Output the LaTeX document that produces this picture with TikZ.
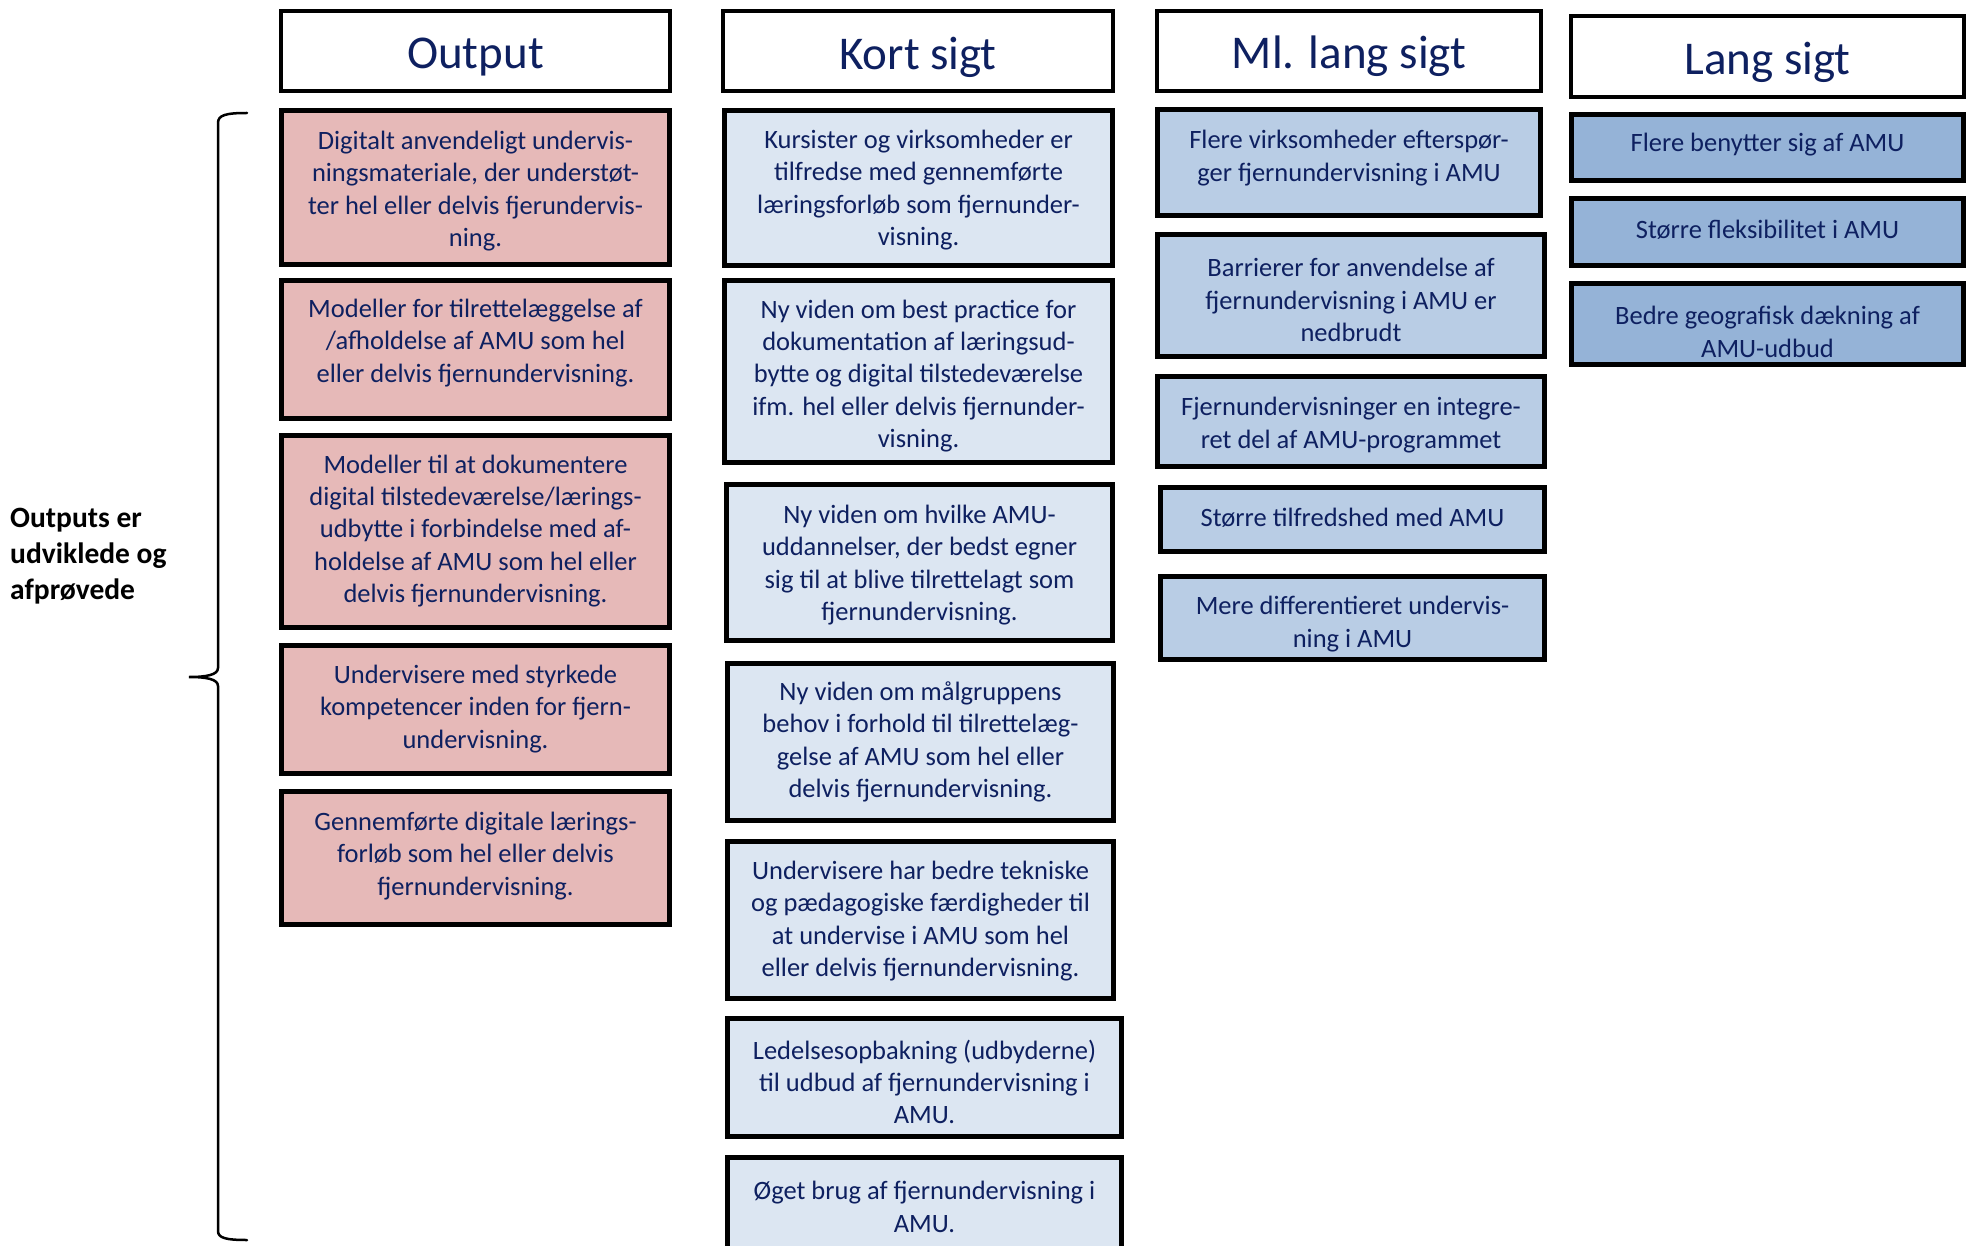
\documentclass[tikz,border=0pt]{standalone}
\usepackage{fontspec}
\setmainfont{Carlito}
\definecolor{navy}{RGB}{14,32,96}
\definecolor{pinkfill}{HTML}{E6B9B8}
\definecolor{kortfill}{HTML}{DCE6F2}
\definecolor{mlfill}{HTML}{B9CDE5}
\definecolor{langfill}{HTML}{95B3D7}
\newcommand\bx[8]{%
  \node[#2, minimum width={(#5-#3-5)*1pt}, minimum height={(#6-#4-5)*1pt}] (#1) at ({(#3+#5)/2},{(#4+#6)/2}) {};
  \node[txt] (#1t) at ({(#3+#5)/2},#7) {#8};
}
\begin{document}
\begin{tikzpicture}[x=1pt,y=-1pt,
  boxbase/.style={draw=black, line width=5pt, inner sep=0pt, outer sep=0pt},
  obox/.style={boxbase, fill=pinkfill},
  kbox/.style={boxbase, fill=kortfill},
  mbox/.style={boxbase, fill=mlfill},
  lbox/.style={boxbase, fill=langfill},
  hbox/.style={draw=black, line width=4pt, fill=white, inner sep=0pt, outer sep=0pt},
  txt/.style={align=center, inner sep=0pt, yshift=-3pt, text=navy, font=\fontsize{26.5}{32.3}\selectfont},
  htxt/.style={inner sep=0pt, yshift=-4pt, text=navy, font=\fontsize{47}{56}\selectfont},
  lbl/.style={align=left, inner sep=0pt, text=black, font=\fontsize{29.5}{36}\selectfont\bfseries},
  brace/.style={draw=black, line width=2.5pt, line cap=round}]
\useasboundingbox (0,0) rectangle (1970,1246);
% headers
\node[hbox, minimum width=389pt, minimum height=80pt] (hout) at (475.5,51) {};
\node[htxt] (houtt) at (475.5,53) {Output};
\node[hbox, minimum width=390pt, minimum height=80pt] (hkort) at (918,51) {};
\node[htxt] (hkortt) at (918,53) {Kort sigt};
\node[hbox, minimum width=384pt, minimum height=80pt] (hml) at (1349,51) {};
\node[htxt] (hmlt) at (1349,52) {Ml. lang sigt};
\node[hbox, minimum width=393pt, minimum height=81pt] (hlang) at (1767.5,56.5) {};
\node[htxt] (hlangt) at (1767.5,58) {Lang sigt};
% Output column
\bx{o1}{obox}{279}{108}{672}{267}{188}{Digitalt anvendeligt undervis-\\ningsmateriale, der understøt-\\ter hel eller delvis fjerundervis-\\ning.}
\bx{o2}{obox}{279}{278}{672}{421}{340}{Modeller for tilrettelæggelse af\\/afholdelse af AMU som hel\\eller delvis fjernundervisning.}
\bx{o3}{obox}{279}{433}{672}{630}{528}{Modeller til at dokumentere\\digital tilstedeværelse/lærings-\\udbytte i forbindelse med af-\\holdelse af AMU som hel eller\\delvis fjernundervisning.}
\bx{o4}{obox}{279}{643}{672}{776}{706}{Undervisere med styrkede\\kompetencer inden for fjern-\\undervisning.}
\bx{o5}{obox}{279}{789}{672}{927}{853}{Gennemførte digitale lærings-\\forløb som hel eller delvis\\fjernundervisning.}
% Kort sigt column
\bx{k1}{kbox}{722}{108}{1115}{268}{187}{Kursister og virksomheder er\\tilfredse med gennemførte\\læringsforløb som fjernunder-\\visning.}
\bx{k2}{kbox}{722}{278}{1115}{465}{373}{Ny viden om best practice for\\dokumentation af læringsud-\\bytte og digital tilstedeværelse\\ifm. hel eller delvis fjernunder-\\visning.}
\bx{k3}{kbox}{724}{482}{1115}{643}{562}{Ny viden om hvilke AMU-\\uddannelser, der bedst egner\\sig til at blive tilrettelagt som\\fjernundervisning.}
\bx{k4}{kbox}{725}{661}{1116}{823}{739}{Ny viden om målgruppens\\behov i forhold til tilrettelæg-\\gelse af AMU som hel eller\\delvis fjernundervisning.}
\bx{k5}{kbox}{725}{839}{1116}{1001}{918}{Undervisere har bedre tekniske\\og pædagogiske færdigheder til\\at undervise i AMU som hel\\eller delvis fjernundervisning.}
\bx{k6}{kbox}{725}{1016}{1124}{1139}{1079}{Ledelsesopbakning (udbyderne)\\til udbud af fjernundervisning i\\AMU.}
\bx{k7}{kbox}{725}{1155}{1124}{1262}{1204}{Øget brug af fjernundervisning i\\AMU.}
% Ml. lang sigt column
\bx{m1}{mbox}{1155}{107}{1543}{218}{155}{Flere virksomheder efterspør-\\ger fjernundervisning i AMU}
\bx{m2}{mbox}{1155}{232}{1547}{359}{297}{Barrierer for anvendelse af\\fjernundervisning i AMU er\\nedbrudt}
\bx{m3}{mbox}{1155}{374}{1547}{469}{422}{Fjernundervisninger en integre-\\ret del af AMU-programmet}
\bx{m4}{mbox}{1158}{485}{1547}{554}{515}{Større tilfredshed med AMU}
\bx{m5}{mbox}{1158}{574}{1547}{662}{621}{Mere differentieret undervis-\\ning i AMU}
% Lang sigt column
\bx{l1}{lbox}{1569}{112}{1966}{183}{142}{Flere benytter sig af AMU}
\bx{l2}{lbox}{1569}{196}{1966}{268}{227}{Større fleksibilitet i AMU}
\bx{l3}{lbox}{1569}{281}{1966}{367}{329}{Bedre geografisk dækning af\\AMU-udbud}
% brace and label
\coordinate (btop) at (247,113);
\coordinate (btip) at (189,677);
\coordinate (bbot) at (247,1240);
\draw[brace] (btop) .. controls (226,113) and (218,115) .. (218,123)
  -- (218,668) .. controls (218,675) and (206,677) .. (btip)
  .. controls (206,677) and (218,679) .. (218,686)
  -- (218,1231) .. controls (218,1238) and (226,1240) .. (bbot);
\node[lbl, anchor=west] (lab) at (10,556) {Outputs er\\udviklede og\\afprøvede};
\end{tikzpicture}
\end{document}
